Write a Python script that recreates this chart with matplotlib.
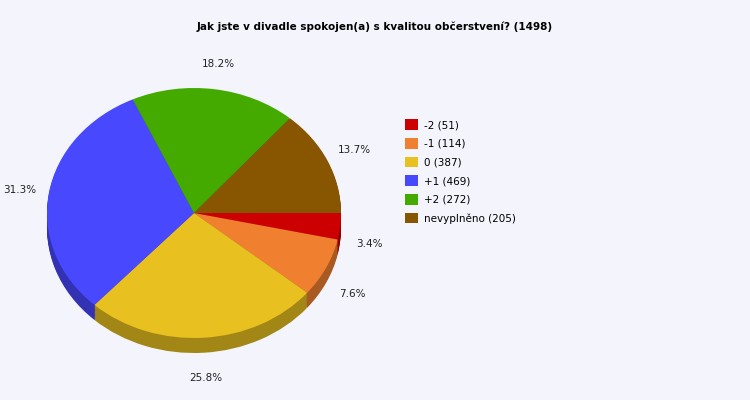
import numpy as np
import matplotlib.pyplot as plt
from matplotlib.patches import Patch
from matplotlib.colors import to_rgb

labels = ["-2", "-1", "0", "+1", "+2", "nevyplněno"]
counts = [51, 114, 387, 469, 272, 205]
colors = ["#cc0000", "#f08030", "#e8c020", "#4848ff", "#44aa00", "#885500"]
title = "Jak jste v divadle spokojen(a) s kvalitou občerstvení? (1498)"

bg = "#f4f4fc"
fig = plt.figure(figsize=(7.5, 4), dpi=100, facecolor=bg)
ax = fig.add_axes([194 / 750 - 147 / 750, (187 - 125) / 400, 294 / 750, 250 / 400])
ax.set_facecolor(bg)
ax.axis("off")

dark = [tuple(c * 0.7 for c in to_rgb(col)) for col in colors]
depth = 0.12
for i in range(12, 0, -1):
    ax.pie(counts, colors=dark, startangle=0, counterclock=False,
           center=(0, -depth * i / 12), radius=1, wedgeprops={"linewidth": 0})

wedges, texts, autotexts = ax.pie(
    counts, colors=colors, startangle=0, counterclock=False,
    autopct=lambda p: "%.1f%%" % p, pctdistance=1.2,
    wedgeprops={"linewidth": 0}, textprops={"fontsize": 7.5, "color": "#222222"})
for t in autotexts:
    x, y = t.get_position()
    if y < 0:
        t.set_position((x, y - depth))
ax.set_aspect("auto")
ax.set_xlim(-1, 1)
ax.set_ylim(-1, 1)

fig.text(0.5, 1 - 27 / 400, title, ha="center", va="center",
         fontsize=7.5, fontweight="bold")

handles = [Patch(facecolor=c, edgecolor="none") for c in colors]
names = ["%s (%d)" % (l, n) for l, n in zip(labels, counts)]
fig.legend(handles, names, loc="upper left", bbox_to_anchor=(396 / 750, 1 - 110 / 400),
           frameon=False, fontsize=7.5, handlelength=1.2, handleheight=1.2,
           labelspacing=0.75, handletextpad=0.6)

fig.savefig("out.png", dpi=100, facecolor=bg)
